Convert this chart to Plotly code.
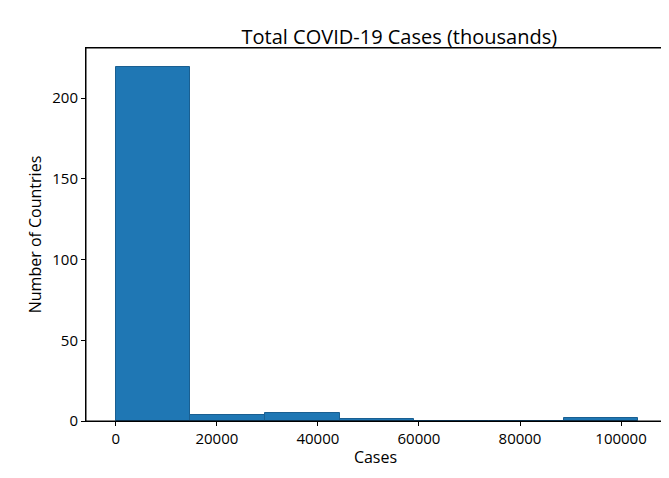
import plotly.graph_objects as go

bin_edges = [0, 14770, 29540, 44310, 59080, 73850, 88620, 103390]
counts = [219, 4, 5, 1, 0, 0, 2]

centers = [(bin_edges[i] + bin_edges[i + 1]) / 2 for i in range(len(counts))]
widths = [bin_edges[i + 1] - bin_edges[i] for i in range(len(counts))]

fig = go.Figure(go.Bar(x=centers, y=counts, width=widths,
                       marker=dict(color="#1f77b4", line=dict(color="#1a5f91", width=1))))

axis = dict(showgrid=False, zeroline=False, showline=True, mirror=True, linecolor="black",
            ticks="outside", ticklen=4, tickcolor="black", tickfont=dict(size=15, color="black"),
            automargin=False)
fig.update_layout(
    width=669, height=478, plot_bgcolor="white", paper_bgcolor="white",
    font=dict(family="Open Sans", color="black"),
    margin=dict(l=78, r=12, t=40, b=65),
    title=dict(text="Total COVID-19 Cases (thousands)", x=0.585, xanchor="center", y=0.955,
               font=dict(size=20)),
    xaxis=dict(axis, range=[-5900, 108700], tickvals=[0, 20000, 40000, 60000, 80000, 100000],
               tickformat="d", title=dict(text="Cases", font=dict(size=16), standoff=4)),
    yaxis=dict(axis, range=[0, 231], tickvals=[0, 50, 100, 150, 200],
               title=dict(text="Number of Countries", font=dict(size=16), standoff=6)),
    bargap=0,
)
fig.add_shape(type="rect", xref="paper", yref="paper", x0=0, y0=0, x1=1, y1=1,
              line=dict(color="black", width=1), layer="above")
fig.write_html("out.html")
